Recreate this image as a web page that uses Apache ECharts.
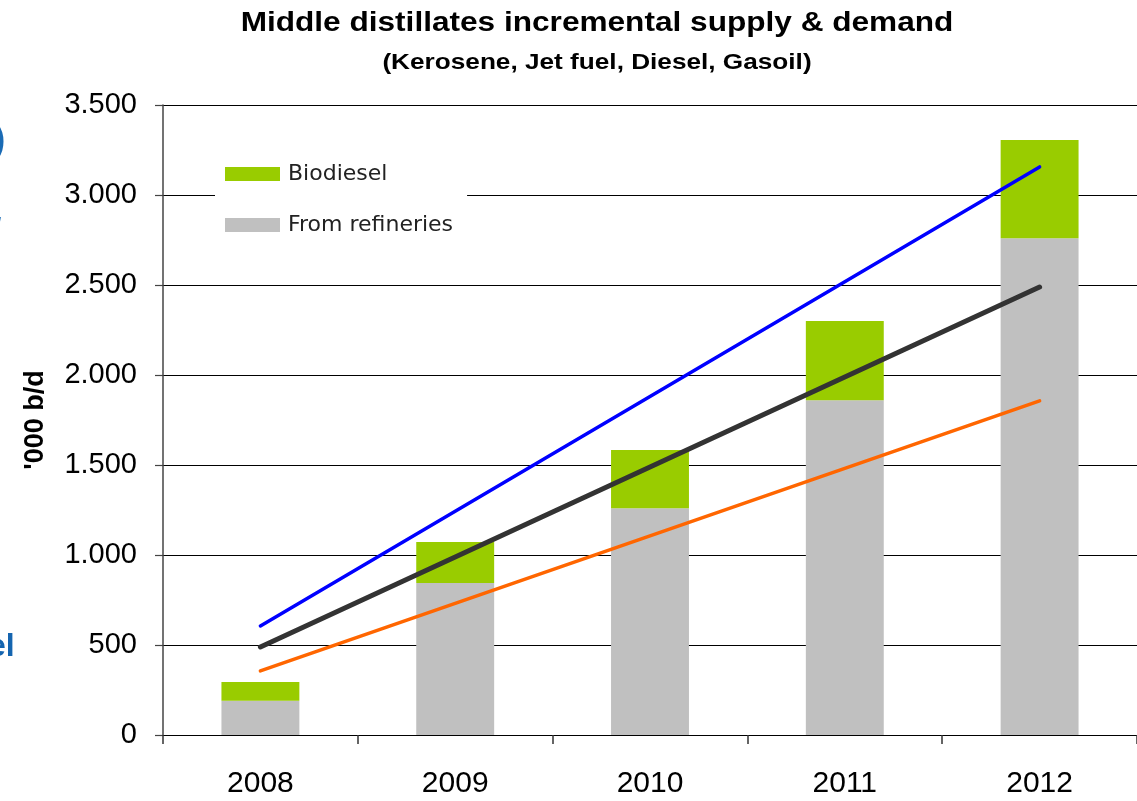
<!DOCTYPE html>
<html>
<head>
<meta charset="utf-8">
<script src="https://cdn.jsdelivr.net/npm/echarts@6/dist/echarts.min.js"></script>
<style>
  html, body { margin: 0; padding: 0; background: #fff; }
  #chart { width: 1137px; height: 801px; }
</style>
</head>
<body>
<div id="chart"></div>
<script>
// Incremental supply & demand of middle distillates, '000 b/d
const years = ['2008', '2009', '2010', '2011', '2012'];
const fromRefineries = [190, 845, 1260, 1860, 2760];
const biodiesel = [105, 227, 323, 440, 546];
// Demand scenarios: straight trend lines from 2008 to 2012
const demandHigh = [606, null, null, null, 3156];
const demandMid = [489, null, null, null, 2489];
const demandLow = [356, null, null, null, 1856];
const yTicks = [0, 500, 1000, 1500, 2000, 2500, 3000, 3500];

const fmt = v => String(v).replace(/\B(?=(\d{3})+(?!\d))/g, '.');

const chart = echarts.init(document.getElementById('chart'), null, { renderer: 'canvas' });

chart.setOption({
  animation: false,
  backgroundColor: '#ffffff',
  legend: {
    data: ['Biodiesel', 'From refineries'],
    orient: 'vertical',
    left: 215, top: 150,
    padding: [13, 14, 9, 10],
    itemGap: 29,
    itemWidth: 55, itemHeight: 14,
    backgroundColor: '#ffffff',
    selectedMode: false,
    textStyle: { fontFamily: '"DejaVu Sans", Tahoma, sans-serif', fontSize: 22, color: '#222', padding: [0, 0, 0, 3] },
    icon: 'rect'
  },
  grid: { left: 163, right: -7, top: 105, bottom: 66, containLabel: false },
  xAxis: {
    type: 'category',
    data: years,
    boundaryGap: true,
    axisLine: { show: true, lineStyle: { color: '#000', width: 1.2 } },
    axisTick: { show: true, length: 9, lineStyle: { color: '#333', width: 1.5 } },
    axisLabel: { margin: 34, fontFamily: '"Liberation Sans", Arial', fontSize: 30, color: '#000' },
    splitLine: { show: false }
  },
  yAxis: {
    type: 'value',
    min: yTicks[0], max: yTicks[yTicks.length - 1], interval: 500,
    name: "'000 b/d",
    nameLocation: 'middle', nameRotate: 90, nameGap: 114,
    nameTextStyle: { fontFamily: '"Liberation Sans", Arial', fontWeight: 'bold', fontSize: 27, color: '#000' },
    axisLine: { show: true, lineStyle: { color: '#444', width: 1.5 } },
    axisTick: { show: true, length: 8, lineStyle: { color: '#444', width: 1.2 } },
    axisLabel: { margin: 26, fontFamily: '"Liberation Sans", Arial', fontSize: 29, color: '#000', formatter: fmt },
    splitLine: { show: true, lineStyle: { color: '#000', width: 1 } }
  },
  series: [
    {
      name: 'From refineries', type: 'bar', stack: 'supply',
      data: fromRefineries, barWidth: '40%',
      itemStyle: { color: '#c0c0c0' }
    },
    {
      name: 'Biodiesel', type: 'bar', stack: 'supply',
      data: biodiesel, barWidth: '40%',
      itemStyle: { color: '#99cc00' }
    },
    {
      name: 'High', type: 'line', data: demandHigh, connectNulls: true,
      symbol: 'none', z: 5,
      lineStyle: { color: '#0000ff', width: 3.5, cap: 'round' }
    },
    {
      name: 'Mid', type: 'line', data: demandMid, connectNulls: true,
      symbol: 'none', z: 6,
      lineStyle: { color: '#333333', width: 5, cap: 'round' }
    },
    {
      name: 'Low', type: 'line', data: demandLow, connectNulls: true,
      symbol: 'none', z: 5,
      lineStyle: { color: '#ff6600', width: 3.5, cap: 'round' }
    }
  ],
  graphic: [
    // Title and subtitle, set in a slightly widened bold face
    {
      type: 'text', x: 597, y: 10, scaleX: 1.17, scaleY: 1,
      style: {
        text: 'Middle distillates incremental supply & demand',
        font: 'bold 27px "Liberation Sans", Arial',
        fill: '#000', align: 'center', verticalAlign: 'top'
      }
    },
    {
      type: 'text', x: 597, y: 52, scaleX: 1.19, scaleY: 1,
      style: {
        text: '(Kerosene, Jet fuel, Diesel, Gasoil)',
        font: 'bold 22px "Liberation Sans", Arial',
        fill: '#000', align: 'center', verticalAlign: 'top'
      }
    },
    // Text running in from the left margin
    {
      type: 'text', x: -7, y: 122,
      style: { text: ')', font: 'bold 37px "Liberation Sans", Arial', fill: '#1a6bb5', align: 'left', verticalAlign: 'top' }
    },
    {
      type: 'text', x: -5, y: 216,
      style: { text: '/', font: 'bold 22px "Liberation Sans", Arial', fill: '#1a6bb5', align: 'left', verticalAlign: 'top' }
    },
    {
      type: 'text', x: -12, y: 631,
      style: { text: 'el', font: 'bold 32px "Liberation Sans", Arial', fill: '#1565b0', align: 'left', verticalAlign: 'top' }
    }
  ]
});
</script>
</body>
</html>
